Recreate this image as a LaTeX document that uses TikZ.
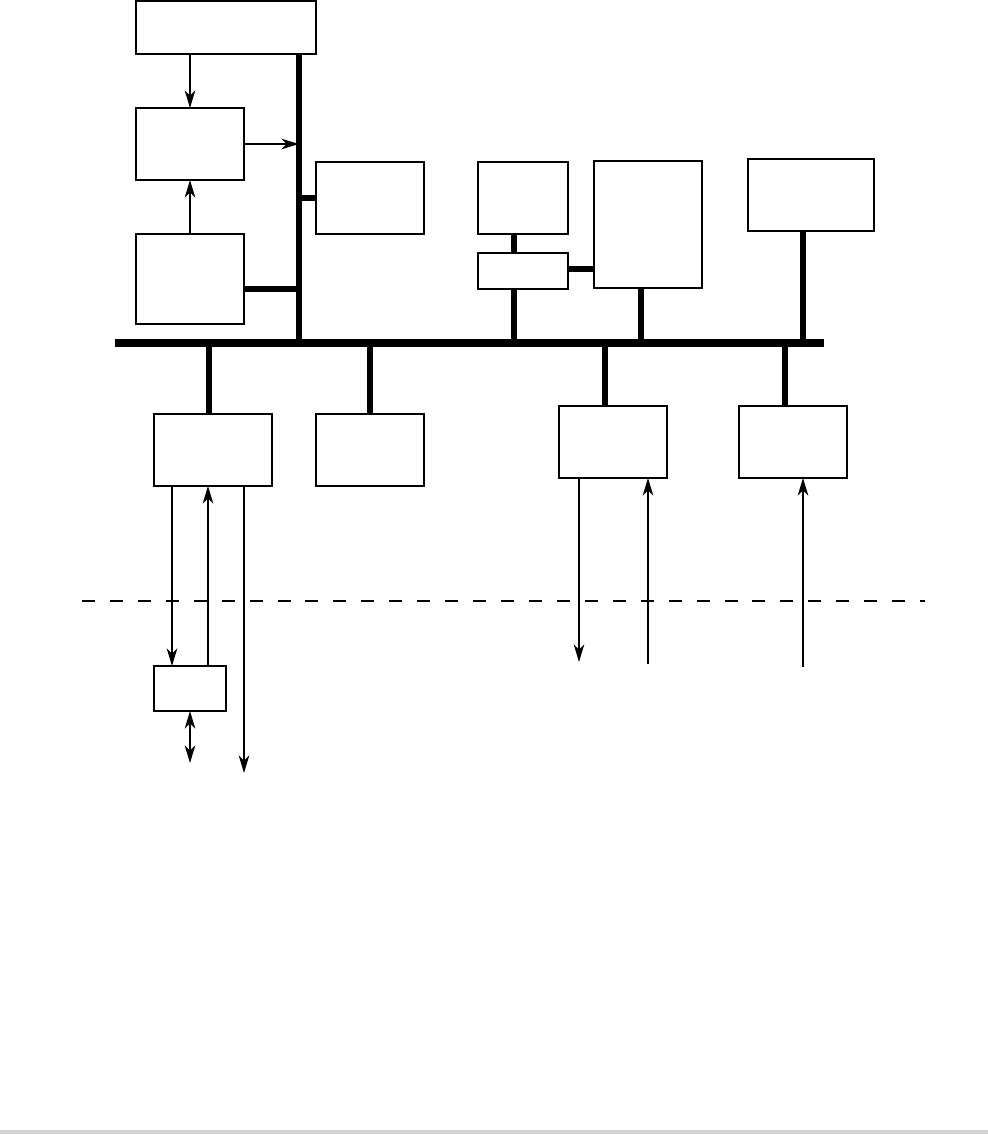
\documentclass[tikz,border=0pt]{standalone}
\usepackage{tikz}
\usetikzlibrary{arrows.meta,positioning}

\begin{document}
\begin{tikzpicture}[
    x=0.02cm,
    y=-0.02cm,
    box/.style={draw, line width=0.8pt, inner sep=0pt, outer sep=0pt},
    bus/.style={line width=4pt},
    stub/.style={line width=3.4pt},
    arr/.style={line width=0.9pt, -{Stealth[length=10pt, width=6pt, inset=3pt]}},
    darr/.style={line width=0.9pt, {Stealth[length=10pt, width=6pt, inset=3pt]}-{Stealth[length=10pt, width=6pt, inset=3pt]}}
]
\useasboundingbox (0,0) rectangle (988,1134);
\fill[black!17] (0,1130) rectangle (988,1134);

\node[box, minimum width=3.6cm, minimum height=1.06cm] (ctrl) at (226,27.5) {};
\node[box, minimum width=2.16cm, minimum height=1.44cm] (proc) at (190,144) {};
\node[box, minimum width=2.16cm, minimum height=1.8cm] (mem) at (190,279) {};
\node[box, minimum width=2.16cm, minimum height=1.44cm] (aux) at (370,198) {};
\node[box, minimum width=1.8cm, minimum height=1.44cm] (dev) at (523,198) {};
\node[box, minimum width=1.8cm, minimum height=0.72cm] (adp) at (523,271) {};
\node[box, minimum width=2.16cm, minimum height=2.54cm] (store) at (648,224.5) {};
\node[box, minimum width=2.52cm, minimum height=1.44cm] (disp) at (811,195) {};
\node[box, minimum width=2.36cm, minimum height=1.44cm] (ioa) at (213,450) {};
\node[box, minimum width=2.16cm, minimum height=1.44cm] (iob) at (370,450) {};
\node[box, minimum width=2.16cm, minimum height=1.44cm] (ioc) at (613,442) {};
\node[box, minimum width=2.16cm, minimum height=1.44cm] (iod) at (793,442) {};
\node[box, minimum width=1.44cm, minimum height=0.9cm] (term) at (190,688.5) {};

\coordinate (busW) at (115,343);
\coordinate (busE) at (824,343);
\coordinate (vbus) at (299,343);
\coordinate (outA) at (244,773);
\coordinate (outF) at (190,763);
\coordinate (outC) at (579,662);
\coordinate (inC) at (648,664);
\coordinate (inD) at (803,667);

\draw[bus] (busW) -- (busE);
\draw[stub] (vbus) -- (vbus |- ctrl.south);

\draw[arr] (proc.north |- ctrl.south) -- (proc.north);
\draw[arr] (proc.east) -- (proc.east -| vbus);
\draw[arr] (mem.north) -- (proc.south);
\draw[stub] ([yshift=-0.2cm]mem.east) -- ([yshift=-0.2cm]mem.east -| vbus);
\draw[stub] (aux.west) -- (aux.west -| vbus);

\draw[stub] ([xshift=-0.18cm]dev.south) -- ([xshift=-0.18cm]adp.north);
\draw[stub] ([xshift=-0.18cm]adp.south) -- ([xshift=-0.18cm]adp.south |- busW);
\draw[stub] ([yshift=0.04cm]adp.east) -- ([yshift=0.04cm]adp.east -| store.west);
\draw[stub] ([xshift=-0.14cm]store.south) -- ([xshift=-0.14cm]store.south |- busW);
\draw[stub] ([xshift=-0.16cm]disp.south) -- ([xshift=-0.16cm]disp.south |- busW);

\draw[stub] ([xshift=-0.08cm]ioa.north) -- ([xshift=-0.08cm]ioa.north |- busW);
\draw[stub] (iob.north) -- (iob.north |- busW);
\draw[stub] ([xshift=-0.16cm]ioc.north) -- ([xshift=-0.16cm]ioc.north |- busW);
\draw[stub] ([xshift=-0.16cm]iod.north) -- ([xshift=-0.16cm]iod.north |- busW);

\draw[dash pattern=on 7.4pt off 8.5pt, line width=0.6pt] (82,601) -- (925,601);

\draw[arr] ([xshift=-0.36cm]term.north |- ioa.south) -- ([xshift=-0.36cm]term.north);
\draw[arr] ([xshift=0.36cm]term.north) -- ([xshift=0.36cm]term.north |- ioa.south);
\draw[arr] (outA |- ioa.south) -- (outA);
\draw[darr] (term.south) -- (outF);

\draw[arr] (outC |- ioc.south) -- (outC);
\draw[arr] (inC) -- (inC |- ioc.south);
\draw[arr] (inD) -- (inD |- iod.south);
\end{tikzpicture}
\end{document}
